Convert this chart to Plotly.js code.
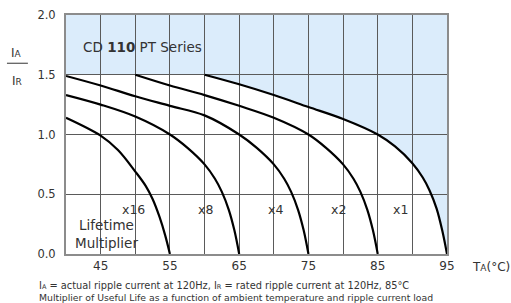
<!DOCTYPE html>
<html>
<head>
<meta charset="utf-8">
<script src="https://cdn.plot.ly/plotly-3.0.1.min.js"></script>
<style>html,body{margin:0;padding:0;background:#fff;}#chart{width:511px;height:303px;}</style>
</head>
<body>
<div id="chart"></div>
<script>
// Curves: ambient temperature (°C) vs ripple ratio IA/IR for each lifetime multiplier
var multipliers = ["x16", "x8", "x4", "x2", "x1"];
var tX16 = [40, 45, 47.5, 50, 51.5, 52.5, 53.5, 54.3, 55];
var vX16 = [1.14, 0.99, 0.87, 0.69, 0.57, 0.46, 0.31, 0.16, 0];
var tX8 = [40, 45, 50, 55, 57.5, 60, 61.5, 62.5, 63.5, 64.3, 65];
var vX8 = [1.33, 1.25, 1.15, 1.00, 0.89, 0.75, 0.63, 0.52, 0.37, 0.20, 0];
var tX4 = [40, 45, 50, 55, 60, 65, 67.5, 70, 71.5, 72.5, 73.5, 74.3, 75];
var vX4 = [1.49, 1.41, 1.32, 1.24, 1.16, 1.00, 0.89, 0.75, 0.63, 0.52, 0.37, 0.20, 0];
var tX2 = [50, 55, 60, 65, 70, 75, 77.5, 80, 81.5, 82.5, 83.5, 84.3, 85];
var vX2 = [1.50, 1.41, 1.33, 1.24, 1.14, 1.00, 0.89, 0.75, 0.63, 0.52, 0.37, 0.20, 0];
var tX1 = [60, 65, 70, 75, 80, 85, 87.5, 90, 91.5, 92.5, 93.5, 94.3, 95];
var vX1 = [1.50, 1.42, 1.33, 1.23, 1.13, 1.00, 0.90, 0.76, 0.64, 0.53, 0.38, 0.20, 0];
// label positions for multipliers
var labelT = [49.8, 60.2, 70.3, 79.4, 88.3];
var labelV = 0.375;
var xTicks = [45, 55, 65, 75, 85, 95];
var yTicks = [0, 0.5, 1.0, 1.5, 2.0];

var curvesT = [tX16, tX8, tX4, tX2, tX1];
var curvesV = [vX16, vX8, vX4, vX2, vX1];

var traces = curvesT.map(function (t, i) {
  return {
    x: t, y: curvesV[i], type: "scatter", mode: "lines",
    line: {color: "#000", width: 2.2, shape: "spline", smoothing: 1},
    hoverinfo: "skip", showlegend: false
  };
});

// blue region: above 1.5 and above the x1 curve
var path = "M40,2 L40,1.5";
for (var i = 0; i < tX1.length; i++) path += " L" + tX1[i] + "," + vX1[i];
path += " L95,2 Z";

var font = "DejaVu Sans, sans-serif";
var annotations = [
  {xref: "paper", yref: "paper", x: 0.04, y: 0.865, xanchor: "left", yanchor: "middle",
   text: "CD <b>110</b> PT Series", showarrow: false, font: {family: font, size: 13.5, color: "#333"}},
  {xref: "x", yref: "y", x: 45.8, y: 0.17, text: "Lifetime<br>Multiplier", showarrow: false,
   font: {family: font, size: 13.5, color: "#333"}},
  {xref: "paper", yref: "paper", x: -0.129, y: 0.841, xanchor: "center", yanchor: "middle",
   text: "I<span style=\"font-size:9px\">A</span>", showarrow: false, font: {family: font, size: 12, color: "#333"}},
  {xref: "paper", yref: "paper", x: -0.129, y: 0.722, xanchor: "center", yanchor: "middle",
   text: "I<span style=\"font-size:9px\">R</span>", showarrow: false, font: {family: font, size: 12, color: "#333"}},
  {xref: "paper", yref: "paper", x: 1.115, y: -0.054, xanchor: "center", yanchor: "middle",
   text: "T<span style=\"font-size:9px\">A</span>(°C)", showarrow: false, font: {family: font, size: 12, color: "#333"}},
  {xref: "paper", yref: "paper", x: -0.075, y: -0.13, xanchor: "left", yanchor: "middle",
   text: "I<span style=\"font-size:6.5px\">A</span> = actual ripple current at 120Hz, I<span style=\"font-size:6.5px\">R</span> = rated ripple current at 120Hz, 85°C",
   showarrow: false, font: {family: font, size: 9.8, color: "#333"}},
  {xref: "paper", yref: "paper", x: -0.075, y: -0.181, xanchor: "left", yanchor: "middle",
   text: "Multiplier of Useful Life as a function of ambient temperature and ripple current load",
   showarrow: false, font: {family: font, size: 9.3, color: "#333"}}
];
multipliers.forEach(function (m, i) {
  annotations.push({xref: "x", yref: "y", x: labelT[i], y: labelV, text: m, showarrow: false,
    font: {family: font, size: 12.5, color: "#333"}});
});

var layout = {
  width: 511, height: 303,
  margin: {l: 66, r: 64, t: 15, b: 49, pad: 0},
  paper_bgcolor: "#fff", plot_bgcolor: "#fff",
  showlegend: false,
  xaxis: {
    range: [40, 95], tickvals: xTicks, showgrid: true, gridcolor: "#5a5a5a", gridwidth: 1,
    minor: {tick0: 40, dtick: 5, showgrid: true, gridcolor: "#5a5a5a", gridwidth: 1},
    showline: true, mirror: true, linecolor: "#8c8c8c", linewidth: 2, zeroline: false,
    ticks: "", ticklen: 0, tickfont: {family: font, size: 12, color: "#333"}, fixedrange: true
  },
  yaxis: {
    range: [0, 2], tickvals: yTicks, tickformat: ".1f", showgrid: true, gridcolor: "#5a5a5a", gridwidth: 1,
    showline: true, mirror: true, linecolor: "#8c8c8c", linewidth: 2, zeroline: false,
    ticks: "outside", ticklen: 6, tickcolor: "rgba(0,0,0,0)", tickfont: {family: font, size: 11.5, color: "#333"}, fixedrange: true
  },
  shapes: [
    {type: "path", xref: "x", yref: "y", path: path, fillcolor: "#dbecfb", line: {width: 0}, layer: "below"},
    {type: "line", xref: "paper", yref: "paper", x0: -0.155, x1: -0.1, y0: 0.798, y1: 0.798,
     line: {color: "#555", width: 1.2}}
  ],
  annotations: annotations
};

Plotly.newPlot("chart", traces, layout, {displayModeBar: false, staticPlot: true});
</script>
</body>
</html>
